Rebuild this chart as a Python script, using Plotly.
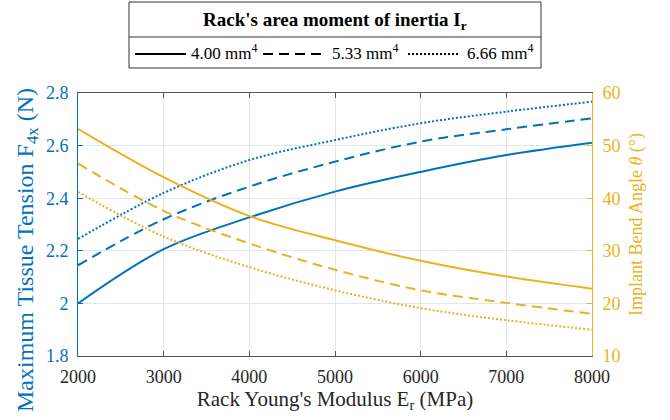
import plotly.graph_objects as go

# ---------------- data ----------------
modulus_mpa = [2000, 3000, 4000, 5000, 6000, 7000, 8000]

inertia_labels = ["4.00 mm<sup>4</sup>", "5.33 mm<sup>4</sup>", "6.66 mm<sup>4</sup>"]

tension_400 = [2.00, 2.206, 2.327, 2.425, 2.500, 2.564, 2.611]
tension_533 = [2.145, 2.320, 2.444, 2.539, 2.615, 2.662, 2.704]
tension_666 = [2.245, 2.420, 2.545, 2.621, 2.685, 2.729, 2.767]

angle_400 = [53.2, 44.0, 36.6, 32.0, 28.1, 25.1, 22.8]
angle_533 = [46.6, 37.6, 31.4, 26.4, 22.5, 20.1, 18.0]
angle_666 = [41.2, 32.7, 26.9, 22.5, 19.1, 16.8, 15.0]

x_ticks = [2000, 3000, 4000, 5000, 6000, 7000, 8000]
y_left_ticks = [1.8, 2.0, 2.2, 2.4, 2.6, 2.8]
y_right_ticks = [10, 20, 30, 40, 50, 60]

# ---------------- style ----------------
BLUE = "#0072BD"
ORANGE = "#EDB120"
DARK = "#262626"
FONT = "Liberation Serif"
DASHES = ["solid", "10px,6px", "2px,2px"]

W, H = 670, 420
L, R, T, B = 78, 592, 93, 356  # plot area in pixels


def px_x(p):
    return (p - L) / (R - L)


def px_y(p):
    return (B - p) / (B - T)


fig = go.Figure()

for vals, dash in zip([tension_400, tension_533, tension_666], DASHES):
    fig.add_trace(go.Scatter(
        x=modulus_mpa, y=vals, mode="lines", yaxis="y",
        line=dict(color=BLUE, width=2, dash=dash, shape="spline", smoothing=1.0),
        showlegend=False, hoverinfo="skip"))

for vals, dash in zip([angle_400, angle_533, angle_666], DASHES):
    fig.add_trace(go.Scatter(
        x=modulus_mpa, y=vals, mode="lines", yaxis="y2",
        line=dict(color=ORANGE, width=2, dash=dash, shape="spline", smoothing=1.0),
        showlegend=False, hoverinfo="skip"))

# ---------------- legend box (drawn manually) ----------------
shapes = [
    dict(type="rect", xref="paper", yref="paper",
         x0=px_x(129), x1=px_x(541), y0=px_y(68), y1=px_y(2),
         line=dict(color="#333333", width=1), fillcolor="white", layer="above"),
    dict(type="line", xref="paper", yref="paper",
         x0=px_x(129), x1=px_x(541), y0=px_y(37), y1=px_y(37),
         line=dict(color="#333333", width=1), layer="above"),
]
annotations = [
    dict(text="<b>Rack's area moment of inertia I<sub>r</sub></b>",
         xref="paper", yref="paper", x=px_x(335), y=px_y(21),
         xanchor="center", yanchor="middle", showarrow=False,
         font=dict(family=FONT, size=19, color="black")),
    dict(text="Maximum Tissue Tension F<sub>4x</sub> (N)",
         xref="paper", yref="paper", x=px_x(27), y=px_y(250),
         xanchor="center", yanchor="middle", textangle=-90, showarrow=False,
         font=dict(family=FONT, size=24, color=BLUE)),
]
sample_spans = [(135, 186), (263, 327), (408, 460)]
text_starts = [189, 330, 465]
for (a, b), tx, lab, dash in zip(sample_spans, text_starts, inertia_labels, DASHES):
    shapes.append(dict(type="line", xref="paper", yref="paper",
                       x0=px_x(a), x1=px_x(b), y0=px_y(54), y1=px_y(54),
                       line=dict(color="black", width=2, dash=dash), layer="above"))
    annotations.append(dict(text=lab, xref="paper", yref="paper",
                            x=px_x(tx), y=px_y(52), xanchor="left", yanchor="middle",
                            showarrow=False,
                            font=dict(family=FONT, size=17, color="black")))

fig.update_layout(
    width=W, height=H,
    margin=dict(l=L, r=W - R, t=T, b=H - B, pad=0),
    paper_bgcolor="white", plot_bgcolor="white",
    font=dict(family=FONT, color=DARK),
    shapes=shapes, annotations=annotations,
    xaxis=dict(
        range=[2000, 8000], tickvals=x_ticks, ticktext=[str(v) for v in x_ticks],
        showgrid=True, gridcolor="#E2E4E6", gridwidth=1,
        showline=True, linecolor="#555555", linewidth=1, mirror="ticks",
        ticks="inside", ticklen=5, tickcolor="#555555",
        tickfont=dict(family=FONT, size=18, color=DARK),
        zeroline=False, ticklabelstandoff=4,
        title=dict(text="Rack Young's Modulus E<sub>r</sub> (MPa)",
                   font=dict(family=FONT, size=21, color=DARK), standoff=3),
    ),
    yaxis=dict(
        range=[1.8, 2.8], tickvals=y_left_ticks,
        ticktext=["1.8", "2", "2.2", "2.4", "2.6", "2.8"],
        showgrid=True, gridcolor="#D9EAF5", gridwidth=1,
        showline=True, linecolor=BLUE, linewidth=1,
        ticks="inside", ticklen=5, tickcolor=BLUE,
        tickfont=dict(family=FONT, size=18, color=BLUE),
        zeroline=False, ticklabelstandoff=5,
    ),
    yaxis2=dict(
        range=[10, 60], tickvals=y_right_ticks,
        overlaying="y", side="right",
        showgrid=False, showline=True, linecolor=ORANGE, linewidth=1,
        ticks="inside", ticklen=5, tickcolor=ORANGE,
        tickfont=dict(family=FONT, size=18, color=ORANGE),
        zeroline=False, ticklabelstandoff=6,
        title=dict(text="Implant Bend Angle <i>θ</i> (°)",
                   font=dict(family=FONT, size=18, color=ORANGE), standoff=9),
    ),
)

fig.write_html("out.html", config={"displayModeBar": False},
               post_script="document.body.style.margin='0';")
